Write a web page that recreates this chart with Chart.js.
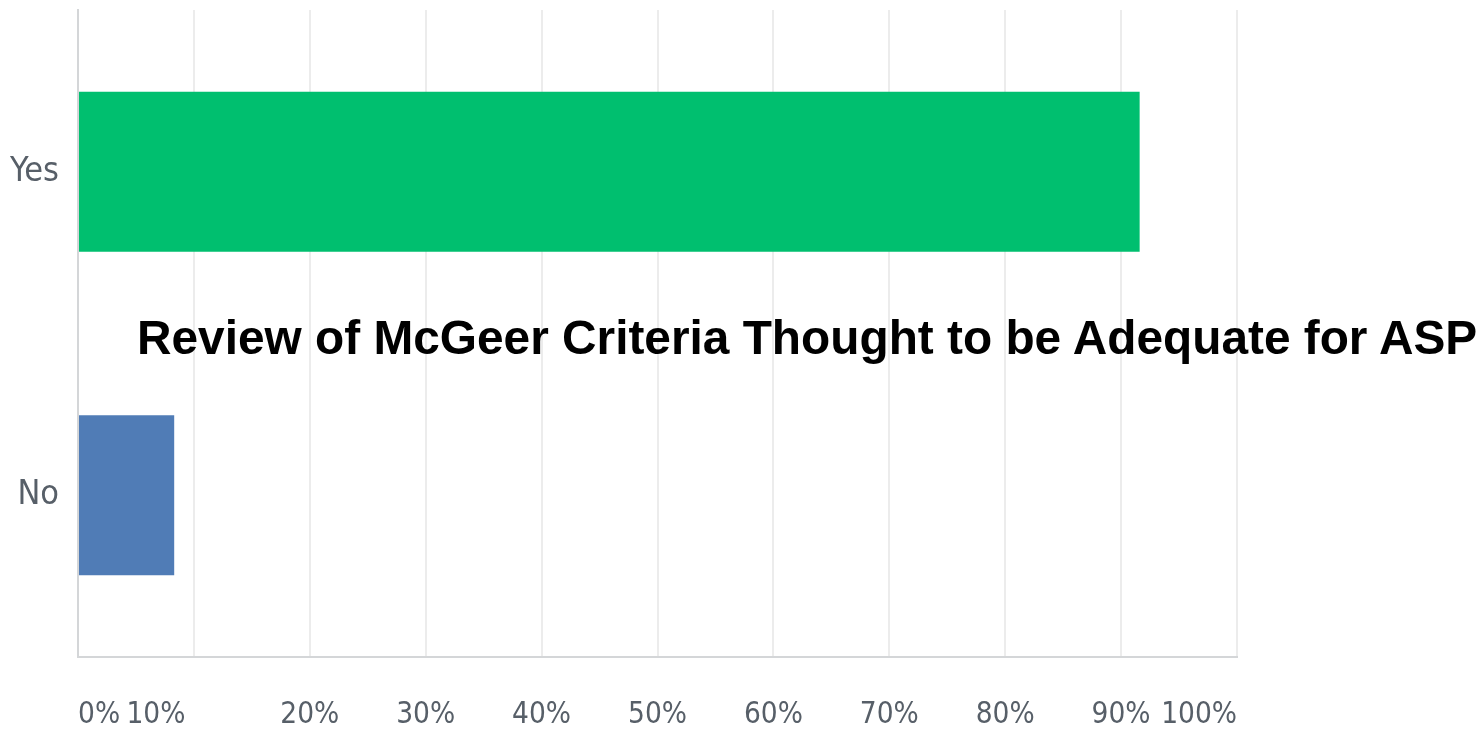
<!DOCTYPE html>
<html>
<head>
<meta charset="utf-8">
<title>Review of McGeer Criteria Thought to be Adequate for ASP</title>
<script src="https://cdn.jsdelivr.net/npm/chart.js@4.4.1/dist/chart.umd.min.js"></script>
<style>
  html, body { margin: 0; padding: 0; background: #ffffff; }
  #wrap { position: relative; width: 1484px; height: 729px; overflow: hidden; }
  #chart { position: absolute; left: 0; top: 0; }
  #headline {
    position: absolute;
    left: 137px;
    top: 313.5px;
    font-family: 'Liberation Sans', Arial, sans-serif;
    font-weight: bold;
    font-size: 47.8px;
    line-height: 1;
    color: #000000;
    white-space: nowrap;
  }
</style>
</head>
<body>
<div id="wrap">
  <canvas id="chart" width="1484" height="729"></canvas>
  <div id="headline">Review of McGeer Criteria Thought to be Adequate for ASP</div>
</div>
<script>
// Survey answers and their share of respondents (percent)
const categories = ['Yes', 'No'];
const shares = [91.6, 8.3];
const barColors = ['#00bf6f', '#507cb6'];
const tickLabels = ['0%', '10%', '20%', '30%', '40%', '50%', '60%', '70%', '80%', '90%', '100%'];

const tickFont = "'DejaVu Sans Condensed', 'DejaVu Sans', sans-serif";

// The first, second and last percent labels sit nudged away from their grid lines
function placeLabel(text, index) {
  if (index === 0) return ' '.repeat(5) + text;
  if (index === 1) return text + ' '.repeat(9);
  if (index === tickLabels.length - 1) return text + ' '.repeat(9);
  return text;
}

// Keep the plot box fixed: no extra room reserved for overhanging labels
function noOverhang(scale) {
  scale.paddingTop = 0;
  scale.paddingBottom = 0;
  scale.paddingLeft = 0;
  scale.paddingRight = 0;
}

new Chart(document.getElementById('chart'), {
  type: 'bar',
  data: {
    labels: categories,
    datasets: [{
      data: shares,
      backgroundColor: barColors,
      borderWidth: 0,
      barPercentage: 0.495,
      categoryPercentage: 1.0
    }]
  },
  options: {
    indexAxis: 'y',
    responsive: false,
    animation: false,
    layout: { padding: { top: 10, right: 247, left: 0, bottom: 0 } },
    plugins: {
      legend: { display: false },
      tooltip: { enabled: false },
      title: { display: false }
    },
    scales: {
      x: {
        min: 0,
        max: 100,
        afterFit: (scale) => { scale.height = 72; noOverhang(scale); },
        ticks: {
          stepSize: 10,
          autoSkip: false,
          maxRotation: 0,
          padding: 41,
          color: '#575f68',
          font: { family: tickFont, size: 29.5 },
          callback: (value, index) => placeLabel(tickLabels[index], index)
        },
        grid: { color: '#ececec', lineWidth: 2, drawTicks: false },
        border: { display: true, color: '#d4d6d8', width: 2 }
      },
      y: {
        afterFit: (scale) => { scale.width = 78; noOverhang(scale); },
        ticks: {
          padding: 19,
          color: '#575f68',
          font: { family: tickFont, size: 34 }
        },
        grid: { display: false, drawTicks: false },
        border: { display: true, color: '#d4d6d8', width: 2 }
      }
    }
  }
});
</script>
</body>
</html>
